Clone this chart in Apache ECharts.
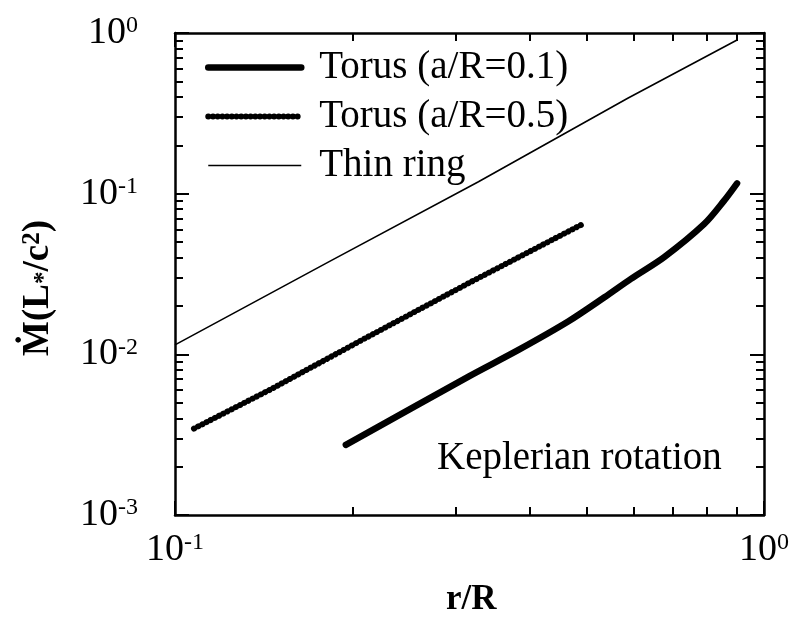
<!DOCTYPE html>
<html>
<head>
<meta charset="utf-8">
<title>Mdot vs r/R</title>
<script src="https://cdn.jsdelivr.net/npm/echarts@6/dist/echarts.min.js"></script>
<style>
  body { margin: 0; background: #fff; }
  #main { width: 792px; height: 621px; }
</style>
</head>
<body>
<div id="main"></div>
<script>
// data (r/R, Mdot in L*/c^2)
var torus01X = [0.195, 0.315, 0.383, 0.465, 0.536, 0.5944, 0.677, 0.791, 0.855, 0.900];
var torus01Y = [0.00273, 0.00727, 0.01065, 0.0160, 0.02265, 0.0295, 0.0403, 0.0646, 0.0902, 0.116];
var torus05X = [0.1077, 0.1447, 0.2028, 0.315, 0.4927];
var torus05Y = [0.00345, 0.0060, 0.01172, 0.0277, 0.0648];
var ringX = [0.1, 0.1827, 0.3275, 0.587, 0.900];
var ringY = [0.01145, 0.03775, 0.1187, 0.3924, 0.905];
var seriesNames = ['Torus (a/R=0.1)', 'Torus (a/R=0.5)', 'Thin ring'];
var xMinorTicks = [0.2, 0.3, 0.4, 0.5, 0.6, 0.7, 0.8, 0.9];
var yMinorTicks = [0.002, 0.003, 0.004, 0.005, 0.006, 0.007, 0.008, 0.009,
  0.02, 0.03, 0.04, 0.05, 0.06, 0.07, 0.08, 0.09,
  0.2, 0.3, 0.4, 0.5, 0.6, 0.7, 0.8, 0.9];

var serif = 'Liberation Serif';

// line looks
var thickLine = { color: '#000', width: 6.5, cap: 'round', join: 'round' };
var beadLine = { color: '#000', width: 6, type: [0.1, 4.6], cap: 'round' };
var thinLine = { color: '#000', width: 1.6 };

function pairs(xs, ys) {
  var out = [];
  for (var i = 0; i < xs.length; i++) out.push([xs[i], ys[i]]);
  return out;
}

function powLabel(v) {
  var e = Math.round(Math.log(v) / Math.LN10);
  return '{b|10}{s|' + e + '}';
}

var labelRich = {
  b: { fontFamily: serif, fontSize: 38, color: '#000', lineHeight: 38 },
  s: { fontFamily: serif, fontSize: 24, color: '#000', verticalAlign: 'top', lineHeight: 18 }
};

function majorAxis(pos, min, max, labels, margin) {
  return {
    type: 'log', logBase: 10, position: pos, min: min, max: max, gridIndex: 0,
    axisLine: { show: true, onZero: false, lineStyle: { color: '#000', width: 2.5 } },
    axisTick: { show: true, inside: true, length: 14, lineStyle: { color: '#000', width: 2 } },
    axisLabel: { show: labels, margin: margin, formatter: powLabel, rich: labelRich },
    splitLine: { show: false }, minorTick: { show: false }
  };
}

function minorAxis(pos, min, max, ticks) {
  return {
    type: 'log', logBase: 10, position: pos, min: min, max: max, gridIndex: 0,
    axisLine: { show: false },
    axisTick: { show: true, inside: true, length: 8, customValues: ticks, lineStyle: { color: '#000', width: 2 } },
    axisLabel: { show: false },
    splitLine: { show: false }
  };
}

var chart = echarts.init(document.getElementById('main'));
chart.setOption({
  animation: false,
  backgroundColor: '#fff',
  grid: { left: 175, top: 33, width: 592, height: 482 },
  legend: {
    orient: 'vertical', left: 200, top: 43,
    data: [
      { name: seriesNames[0], lineStyle: thickLine },
      { name: seriesNames[1], lineStyle: beadLine },
      { name: seriesNames[2], lineStyle: thinLine }
    ],
    itemWidth: 93, itemHeight: 14, itemGap: 10,
    itemStyle: { opacity: 0 },
    textStyle: { fontFamily: serif, fontSize: 39, color: '#000', padding: [0, 0, 0, 13] },
    selectedMode: false
  },
  xAxis: [
    majorAxis('bottom', 0.1, 1, true, 16),
    minorAxis('bottom', 0.1, 1, xMinorTicks),
    majorAxis('top', 0.1, 1, false, 0),
    minorAxis('top', 0.1, 1, xMinorTicks)
  ],
  yAxis: [
    majorAxis('left', 0.001, 1, true, 37),
    minorAxis('left', 0.001, 1, yMinorTicks),
    majorAxis('right', 0.001, 1, false, 0),
    minorAxis('right', 0.001, 1, yMinorTicks)
  ],
  graphic: [
    {
      type: 'text', left: 20, top: 220, rotation: Math.PI / 2,
      style: {
        text: '{m|Ṁ(L}{sub|*}{m|/c}{sup|2}{m|)}',
        rich: {
          m: { fontFamily: serif, fontWeight: 'bold', fontSize: 37, color: '#000', lineHeight: 37 },
          sub: { fontFamily: serif, fontWeight: 'bold', fontSize: 25, color: '#000', verticalAlign: 'bottom', lineHeight: 25 },
          sup: { fontFamily: serif, fontWeight: 'bold', fontSize: 25, color: '#000', verticalAlign: 'top', lineHeight: 18 }
        }
      }
    },
    {
      type: 'text', left: 437, top: 439,
      style: { text: 'Keplerian rotation', font: '39px "Liberation Serif"', fill: '#000' }
    },
    {
      type: 'text', left: 446, top: 582,
      style: { text: 'r/R', font: 'bold 35px "Liberation Serif"', fill: '#000' }
    }
  ],
  series: [
    {
      name: seriesNames[0], type: 'line', xAxisIndex: 0, yAxisIndex: 0,
      data: pairs(torus01X, torus01Y), showSymbol: false, symbol: 'none', smooth: 0.3,
      itemStyle: { color: '#000' }, lineStyle: thickLine
    },
    {
      name: seriesNames[1], type: 'line', xAxisIndex: 0, yAxisIndex: 0,
      data: pairs(torus05X, torus05Y), showSymbol: false, symbol: 'none',
      itemStyle: { color: '#000' }, lineStyle: beadLine
    },
    {
      name: seriesNames[2], type: 'line', xAxisIndex: 0, yAxisIndex: 0,
      data: pairs(ringX, ringY), showSymbol: false, symbol: 'none',
      itemStyle: { color: '#000' }, lineStyle: thinLine
    }
  ]
});
</script>
</body>
</html>
